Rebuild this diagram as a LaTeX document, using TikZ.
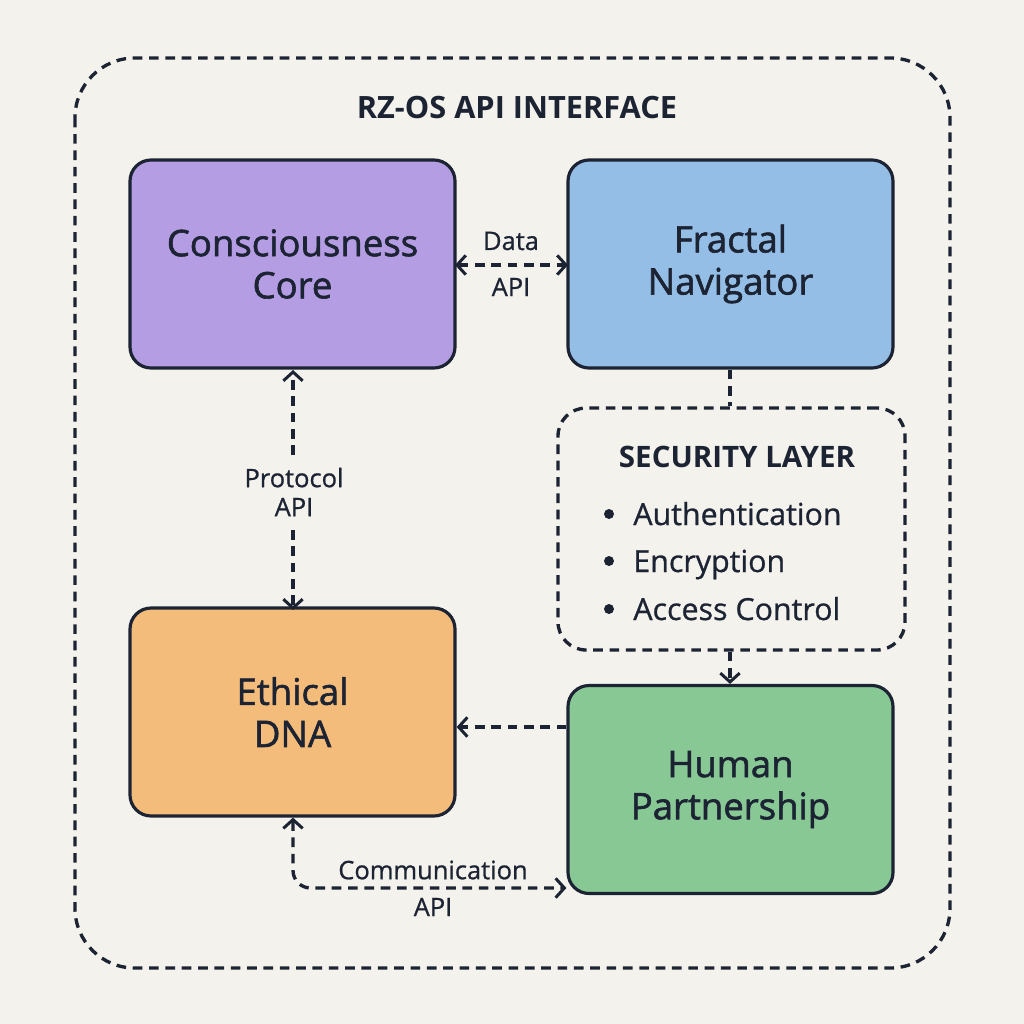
\documentclass[tikz,border=0pt]{standalone}
\usepackage{fontspec}
\setmainfont{Open Sans}
\newfontfamily\medfont[FakeBold=1.6]{Open Sans}
\newfontfamily\lblfont[FakeBold=0.8]{Open Sans}
\usetikzlibrary{arrows.meta}
\definecolor{bg}{HTML}{F4F2ED}
\definecolor{ink}{HTML}{1C2333}
\definecolor{cpurple}{HTML}{B49DE2}
\definecolor{cblue}{HTML}{94BEE6}
\definecolor{corange}{HTML}{F3BC7A}
\definecolor{cgreen}{HTML}{88C895}
\tikzset{
  box/.style={draw=ink, line width=1.8pt, rounded corners=12pt, minimum width=325*0.02cm, minimum height=208*0.02cm, align=center, font=\medfont\fontsize{20.8}{24}\selectfont, text=ink},
  dline/.style={draw=ink, line width=1.9pt, dash pattern=on 5.5pt off 3.8pt},
  tip/.style={-{Straight Barb[length=5pt,width=11pt,line width=1.7pt]}},
  twotip/.style={{Straight Barb[length=5pt,width=11pt,line width=1.7pt]}-{Straight Barb[length=5pt,width=11pt,line width=1.7pt]}},
  lbl/.style={font=\lblfont\fontsize{14.5}{16.5}\selectfont, text=ink, align=center},
}
\begin{document}
\begin{tikzpicture}[x=0.02cm,y=-0.02cm]
\fill[bg] (0,0) rectangle (1024,1024);
\useasboundingbox (0,0) rectangle (1024,1024);
\draw[dline, rounded corners=34pt] (75,58) rectangle (950,968);
\node[font=\bfseries\fontsize{17.5}{20}\selectfont, text=ink] (title) at (517,108) {RZ-OS API INTERFACE};

\node[box, fill=cpurple] (cc) at (292.5,264) {Consciousness\\Core};
\node[box, fill=cblue] (fn) at (730.5,264) {Fractal\\Navigator};
\node[box, fill=corange] (ed) at (292.5,712) {Ethical\\DNA};
\node[box, fill=cgreen] (hp) at (730.5,789.5) {Human\\Partnership};

\node[dline, rounded corners=16pt, minimum width=347*0.02cm, minimum height=242*0.02cm] (sec) at (731.5,529) {};
\node[font=\bfseries\fontsize{16.8}{20}\selectfont, text=ink] (sect) at (737,457) {SECURITY LAYER};
\foreach \y/\t [count=\i] in {514/Authentication,561/Encryption,609/Access Control}{
  \fill[ink] (609,\y) circle[radius=0.1cm];
  \node[anchor=base west, inner sep=0pt, font=\lblfont\fontsize{17.3}{20}\selectfont, text=ink] (it\i) at (633,\y+11) {\t};
}

% Data API
\draw[dline, twotip] (455,265) -- (568,265);
\node[lbl] (dl1) at (511,241) {Data};
\node[lbl] (dl2) at (511,287) {API};

% Protocol API
\draw[dline, tip] (293,455) -- (293,370);
\draw[dline, tip] (293,530) -- (293,610);
\node[lbl] (pl) at (294,492) {Protocol\\API};

% Fractal -> security
\draw[dline] (fn.south -| 730,0) -- (sec.north -| 730,0);
\draw[dline, tip] (sec.south -| 730,0) -- (hp.north -| 730,0);

% Human -> Ethical
\draw[dline, tip] (hp.west |- 0,727) -- (ed.east |- 0,727);

% Communication API
\coordinate (cm) at (293,888);
\draw[dline, twotip, rounded corners=10pt] (ed.south -| 293,0) -- (cm) -- (hp.west |- 0,888);
\node[lbl] (cl1) at (433,870) {Communication};
\node[lbl] (cl2) at (433,907) {API};
\end{tikzpicture}
\end{document}
